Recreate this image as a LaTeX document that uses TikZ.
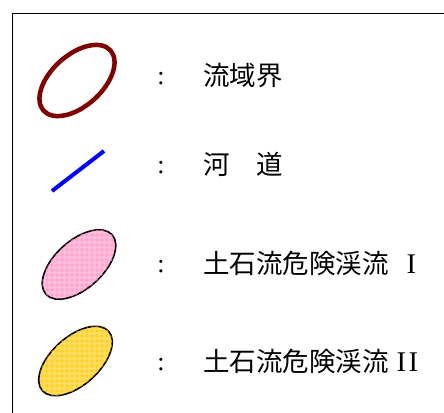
\documentclass[tikz,border=0pt]{standalone}
\usepackage{fontspec}
\setmainfont{Liberation Serif}
\newfontfamily\cjk{Noto Sans CJK JP}
\usetikzlibrary{shapes.geometric,patterns.meta}
\definecolor{bndred}{RGB}{128,0,0}
\definecolor{riverblue}{RGB}{0,0,255}
\definecolor{pinkfill}{RGB}{255,190,222}
\definecolor{pinkline}{RGB}{255,150,200}
\definecolor{yelfill}{RGB}{255,222,100}
\definecolor{yelline}{RGB}{255,200,0}
\tikzdeclarepattern{
  name=legendgrid,
  type=uncolored,
  bounding box={(0pt,0pt) and (5pt,5pt)},
  tile size={(5pt,5pt)},
  code={\draw[line width=0.9pt] (0pt,2.5pt) -- (5pt,2.5pt) (2.5pt,0pt) -- (2.5pt,5pt);}
}
\tikzset{
  frameline/.style={draw=black, line width=1.8pt},
  legendtext/.style={anchor=base west, inner sep=0pt, font=\cjk\fontsize{26.5}{30}\selectfont},
  numeral/.style={},
  colontext/.style={anchor=base, inner sep=0pt, font=\fontsize{26}{30}\selectfont},
  zoneshape/.style={ellipse, draw=black, line width=1.6pt, inner sep=0pt,
    minimum width=89pt, minimum height=48pt},
}
\newcommand{\romnum}[1]{{\rmfamily\fontsize{28.5}{30}\selectfont #1}}
\begin{document}
\begin{tikzpicture}[x=1pt,y=-1pt]
\useasboundingbox (0,0) rectangle (444,412);
\fill[white] (0,0) rectangle (444,412);
\begin{scope}
\clip (0,0) rectangle (444,412);
\coordinate (fbl) at (12.5,430);
\coordinate (ftl) at (12.5,13.5);
\coordinate (ftr) at (460,13.5);
\draw[frameline] (fbl) -- (ftl) -- (ftr);
\end{scope}
% symbols
\node[ellipse, draw=bndred, line width=4.5pt, inner sep=0pt,
      minimum width=90pt, minimum height=51pt, rotate=42] (basin) at (77,80.5) {};
\coordinate (rivA) at (52,191);
\coordinate (rivB) at (104,151);
\draw[riverblue, line width=4pt] (rivA) -- (rivB);
\node[zoneshape, fill=pinkfill, rotate=42,
      postaction={pattern={legendgrid}, pattern color=pinkline}] (zone1) at (79,264.5) {};
\node[zoneshape, fill=yelfill, rotate=42,
      postaction={pattern={legendgrid}, pattern color=yelline}] (zone2) at (75.5,361) {};
% colons
\node[colontext] (c1) at (161,84) {:};
\node[colontext] (c2) at (161,173) {:};
\node[colontext] (c3) at (161,272) {:};
\node[colontext] (c4) at (161,370) {:};
% labels
\node[legendtext] (t1) at (203,85) {流域界};
\node[legendtext] (t2) at (203,174) {河　道};
\node[legendtext] (t3) at (203,273) {土石流危険渓流\hspace{18pt}\romnum{I}};
\node[legendtext] (t4) at (203,371) {土石流危険渓流\hspace{8pt}\romnum{I\kern2.5pt I}};
\end{tikzpicture}
\end{document}
